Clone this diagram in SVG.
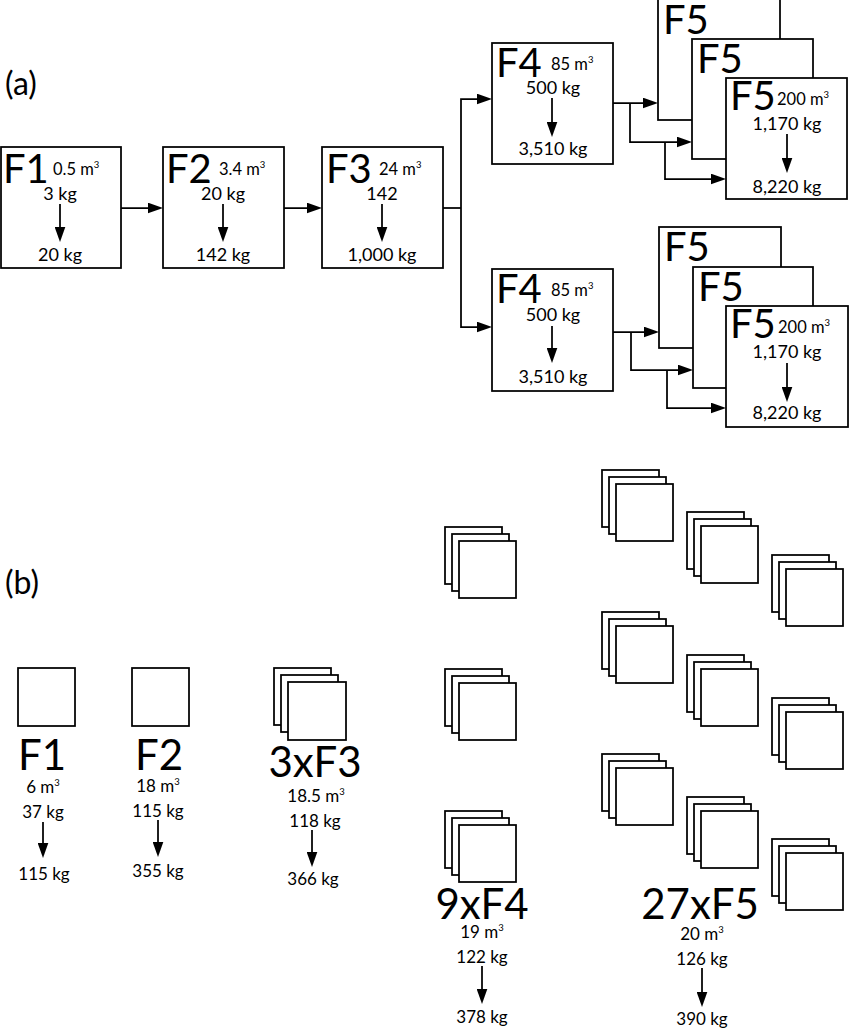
<svg xmlns="http://www.w3.org/2000/svg" width="849" height="1036" viewBox="0 0 849 1036">
<defs>
<style>
rect{fill:#fff;stroke:#000;stroke-width:1.75}
.ln{fill:none;stroke:#000;stroke-width:1.75}
text{font-family:Lato,"Open Sans","Liberation Sans",sans-serif;fill:#000}
.big{font-size:40px}
.med{font-size:16.5px}
.kg{font-size:18px;text-anchor:middle}
.bbig{font-size:42px;text-anchor:middle}
.bmed{font-size:17px;text-anchor:middle}
.bkg{font-size:17px;text-anchor:middle}
.lab{font-size:32px}
.sup{font-size:9.5px}
</style>
<marker id="ar" markerUnits="userSpaceOnUse" markerWidth="16" markerHeight="11" refX="12.5" refY="5.5" orient="auto">
<path d="M0,0 L15.5,5.5 L0,11 z" fill="#000"/>
</marker>
</defs>

<text class="lab" x="5" y="95">(a)</text>
<text class="lab" x="5" y="594">(b)</text>

<g id="connectors">
<path class="ln" d="M121,208 H160" marker-end="url(#ar)"/>
<path class="ln" d="M284,208 H319" marker-end="url(#ar)"/>
<path class="ln" d="M443,208 H461"/>
<path class="ln" d="M461,208 V99 H489" marker-end="url(#ar)"/>
<path class="ln" d="M461,208 V327 H489" marker-end="url(#ar)"/>
<path class="ln" d="M613,103 H655" marker-end="url(#ar)"/>
<path class="ln" d="M630,103 V142 H689" marker-end="url(#ar)"/>
<path class="ln" d="M665,142 V179 H723" marker-end="url(#ar)"/>
<path class="ln" d="M613,332 H656" marker-end="url(#ar)"/>
<path class="ln" d="M631,332 V370 H690" marker-end="url(#ar)"/>
<path class="ln" d="M667,370 V408 H723" marker-end="url(#ar)"/>
</g>

<g id="a-F1">
<rect x="1" y="147" width="120" height="121"/>
<text class="big" x="3" y="183">F1</text>
<text class="med" x="53" y="175">0.5 m<tspan class="sup" dy="-7.5">3</tspan></text>
<text class="kg" x="60" y="200">3 kg</text>
<path class="ln" d="M60,204 V239" marker-end="url(#ar)"/>
<text class="kg" x="60" y="261">20 kg</text>
</g>

<g id="a-F2">
<rect x="163" y="147" width="121" height="121"/>
<text class="big" x="166" y="183">F2</text>
<text class="med" x="219" y="175">3.4 m<tspan class="sup" dy="-7.5">3</tspan></text>
<text class="kg" x="223" y="200">20 kg</text>
<path class="ln" d="M223,204 V239" marker-end="url(#ar)"/>
<text class="kg" x="223" y="261">142 kg</text>
</g>

<g id="a-F3">
<rect x="322" y="147" width="121" height="121"/>
<text class="big" x="326" y="183">F3</text>
<text class="med" x="379" y="175">24 m<tspan class="sup" dy="-7.5">3</tspan></text>
<text class="kg" x="382" y="200">142</text>
<path class="ln" d="M382,204 V239" marker-end="url(#ar)"/>
<text class="kg" x="382" y="261">1,000 kg</text>
</g>

<g id="a-F4-top">
<rect x="492" y="43" width="121" height="121"/>
<text class="big" x="496" y="77">F4</text>
<text class="med" x="551" y="70">85 m<tspan class="sup" dy="-7.5">3</tspan></text>
<text class="kg" x="553" y="94">500 kg</text>
<path class="ln" d="M552,98 V134" marker-end="url(#ar)"/>
<text class="kg" x="553" y="155">3,510 kg</text>
</g>

<g id="a-F5-top">
<rect x="658" y="-1" width="122" height="121"/>
<text class="big" x="663" y="34">F5</text>
<rect x="692" y="39" width="121" height="120"/>
<text class="big" x="697" y="73">F5</text>
<rect x="726" y="78" width="121" height="121"/>
<text class="big" x="730" y="110">F5</text>
<text class="med" x="777" y="105">200 m<tspan class="sup" dy="-7.5">3</tspan></text>
<text class="kg" x="787" y="130">1,170 kg</text>
<path class="ln" d="M787,134 V170" marker-end="url(#ar)"/>
<text class="kg" x="787" y="193">8,220 kg</text>
</g>

<g id="a-F4-bottom">
<rect x="492" y="269" width="121" height="122"/>
<text class="big" x="496" y="303">F4</text>
<text class="med" x="551" y="296">85 m<tspan class="sup" dy="-7.5">3</tspan></text>
<text class="kg" x="553" y="321">500 kg</text>
<path class="ln" d="M552,326 V360" marker-end="url(#ar)"/>
<text class="kg" x="553" y="383">3,510 kg</text>
</g>

<g id="a-F5-bottom">
<rect x="659" y="227" width="122" height="121"/>
<text class="big" x="664" y="261">F5</text>
<rect x="693" y="267" width="120" height="121"/>
<text class="big" x="698" y="301">F5</text>
<rect x="726" y="306" width="122" height="121"/>
<text class="big" x="730" y="338">F5</text>
<text class="med" x="778" y="333">200 m<tspan class="sup" dy="-7.5">3</tspan></text>
<text class="kg" x="787" y="358">1,170 kg</text>
<path class="ln" d="M787,363 V399" marker-end="url(#ar)"/>
<text class="kg" x="787" y="419">8,220 kg</text>
</g>

<g id="b-F1">
<rect x="18" y="668" width="57" height="58"/>
<text class="bbig" x="42" y="770">F1</text>
<text class="bmed" x="43" y="793">6 m<tspan class="sup" dy="-7.5">3</tspan></text>
<text class="bkg" x="43" y="818">37 kg</text>
<path class="ln" d="M43,822 V855" marker-end="url(#ar)"/>
<text class="bkg" x="44" y="880">115 kg</text>
</g>

<g id="b-F2">
<rect x="132" y="668" width="57" height="58"/>
<text class="bbig" x="159" y="770">F2</text>
<text class="bmed" x="158" y="792">18 m<tspan class="sup" dy="-7.5">3</tspan></text>
<text class="bkg" x="158" y="817">115 kg</text>
<path class="ln" d="M158,820 V854" marker-end="url(#ar)"/>
<text class="bkg" x="158" y="877">355 kg</text>
</g>

<g id="b-F3">
<rect x="274" y="668" width="57" height="57"/>
<rect x="281" y="675" width="57" height="57"/>
<rect x="288" y="682" width="58" height="58"/>
<text class="bbig" x="315" y="777">3xF3</text>
<text class="bmed" x="316" y="802">18.5 m<tspan class="sup" dy="-7.5">3</tspan></text>
<text class="bkg" x="315" y="827">118 kg</text>
<path class="ln" d="M312,830 V864" marker-end="url(#ar)"/>
<text class="bkg" x="313" y="885">366 kg</text>
</g>

<g id="b-F4">
<rect x="445" y="527" width="57" height="57"/>
<rect x="452" y="534" width="57" height="57"/>
<rect x="459" y="541" width="57" height="57"/>
<rect x="445" y="669" width="57" height="57"/>
<rect x="452" y="676" width="57" height="57"/>
<rect x="459" y="683" width="57" height="57"/>
<rect x="445" y="811" width="57" height="57"/>
<rect x="452" y="818" width="57" height="57"/>
<rect x="459" y="825" width="57" height="57"/>
<text class="bbig" x="482" y="919">9xF4</text>
<text class="bmed" x="482" y="938">19 m<tspan class="sup" dy="-7.5">3</tspan></text>
<text class="bkg" x="482" y="963">122 kg</text>
<path class="ln" d="M482,966 V1001" marker-end="url(#ar)"/>
<text class="bkg" x="482" y="1023">378 kg</text>
</g>

<g id="b-F5">
<rect x="602" y="470" width="57" height="57"/>
<rect x="609" y="477" width="57" height="57"/>
<rect x="616" y="484" width="57" height="57"/>
<rect x="602" y="612" width="57" height="57"/>
<rect x="609" y="619" width="57" height="57"/>
<rect x="616" y="626" width="57" height="57"/>
<rect x="602" y="754" width="57" height="57"/>
<rect x="609" y="761" width="57" height="57"/>
<rect x="616" y="768" width="57" height="57"/>
<rect x="687" y="512" width="57" height="57"/>
<rect x="694" y="519" width="57" height="57"/>
<rect x="701" y="526" width="57" height="57"/>
<rect x="687" y="655" width="57" height="57"/>
<rect x="694" y="662" width="57" height="57"/>
<rect x="701" y="669" width="57" height="57"/>
<rect x="687" y="797" width="57" height="57"/>
<rect x="694" y="804" width="57" height="57"/>
<rect x="701" y="811" width="57" height="57"/>
<rect x="772" y="555" width="57" height="57"/>
<rect x="779" y="562" width="57" height="57"/>
<rect x="786" y="569" width="57" height="57"/>
<rect x="772" y="698" width="57" height="57"/>
<rect x="779" y="705" width="57" height="57"/>
<rect x="786" y="712" width="57" height="57"/>
<rect x="772" y="839" width="57" height="57"/>
<rect x="779" y="846" width="57" height="57"/>
<rect x="786" y="853" width="57" height="57"/>
<text class="bbig" x="700" y="919">27xF5</text>
<text class="bmed" x="702" y="940">20 m<tspan class="sup" dy="-7.5">3</tspan></text>
<text class="bkg" x="702" y="965">126 kg</text>
<path class="ln" d="M702,968 V1004" marker-end="url(#ar)"/>
<text class="bkg" x="702" y="1025">390 kg</text>
</g>
</svg>
